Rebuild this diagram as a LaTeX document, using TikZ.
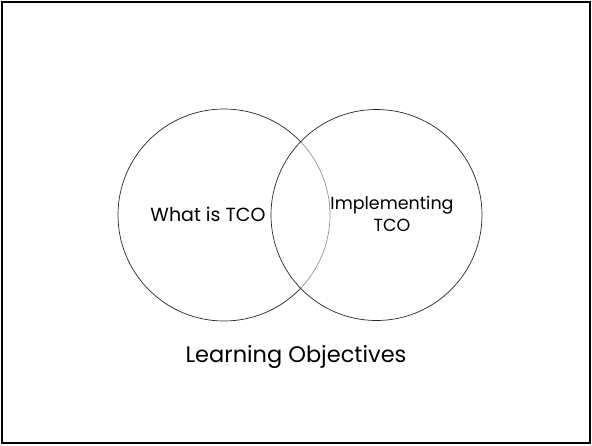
\documentclass[tikz,border=0pt]{standalone}
\usepackage{fontspec}
\setmainfont{Poppins}
\usetikzlibrary{positioning}

\begin{document}
\begin{tikzpicture}[x=1pt,y=-1pt,
    venn/.style={circle,draw=black!85,line width=0.7pt,inner sep=0pt},
    label text/.style={align=center,inner sep=0pt}]
    % frame
    \useasboundingbox (0,0) rectangle (592,445);
    \draw[line width=2pt] (2,2) rectangle (590,443);
    % circles
    \node[venn,minimum size=212pt] (left) at (224,215) {};
    \node[venn,minimum size=211pt,fill=white,fill opacity=0.5] (right) at (376.5,215) {};
    % labels
    \node[label text,anchor=base,font=\fontsize{19}{22}\selectfont] (whatis) at (208,221) {What is TCO};
    \node[label text,font=\fontsize{17.5}{22}\selectfont] (implementing) at (392,213.5) {Implementing\\TCO};
    \node[label text,anchor=base,font=\fontsize{22.5}{26}\selectfont] (objectives) at (296,362) {Learning Objectives};
\end{tikzpicture}
\end{document}
